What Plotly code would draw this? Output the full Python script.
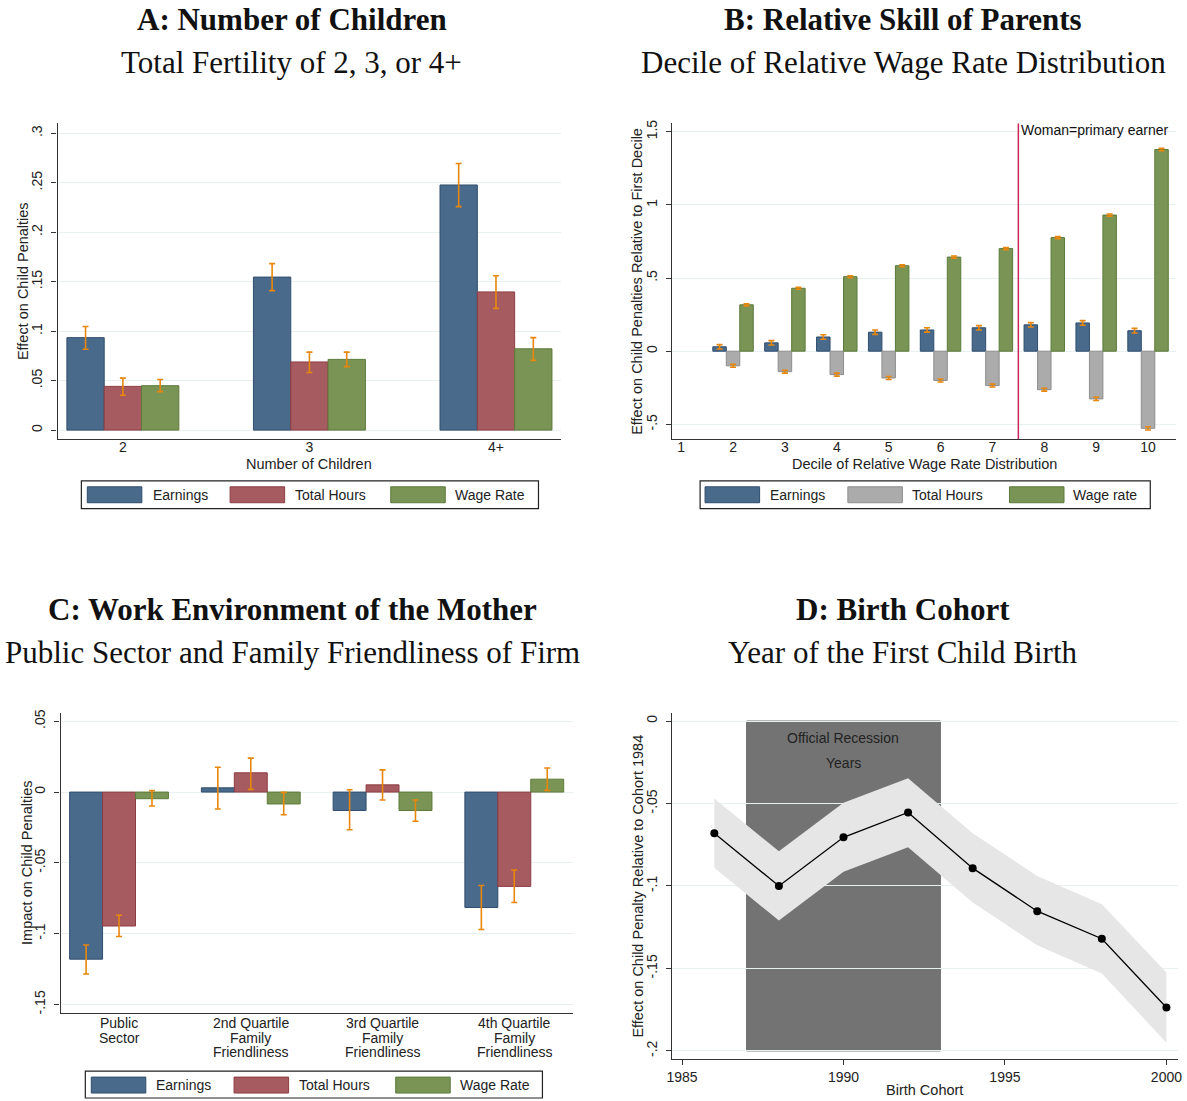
import plotly.graph_objects as go

# ---------------- data ----------------
# Panel A
catA = ["2", "3", "4+"]
earnA = [0.0935, 0.1547, 0.2478]
earnA_lo = [0.0818, 0.1410, 0.2259]
earnA_hi = [0.1048, 0.1683, 0.2695]
hoursA = [0.0442, 0.0689, 0.1397]
hoursA_lo = [0.0353, 0.0582, 0.1231]
hoursA_hi = [0.0526, 0.0788, 0.1560]
wageA = [0.0449, 0.0715, 0.0822]
wageA_lo = [0.0389, 0.0642, 0.0705]
wageA_hi = [0.0512, 0.0788, 0.0935]

# Panel B
decB = [2, 3, 4, 5, 6, 7, 8, 9, 10]
earnB = [0.030, 0.057, 0.097, 0.130, 0.145, 0.160, 0.180, 0.193, 0.140]
earnB_err = [0.015, 0.015, 0.015, 0.015, 0.015, 0.015, 0.015, 0.016, 0.016]
hoursB = [-0.100, -0.140, -0.160, -0.183, -0.200, -0.235, -0.263, -0.326, -0.527]
hoursB_err = [0.010, 0.010, 0.010, 0.010, 0.010, 0.010, 0.010, 0.011, 0.011]
wageB = [0.317, 0.430, 0.509, 0.584, 0.643, 0.701, 0.776, 0.930, 1.378]
wageB_err = [0.007, 0.007, 0.007, 0.007, 0.007, 0.007, 0.007, 0.007, 0.008]

# Panel C
catC = ["Public Sector", "2nd Quartile", "3rd Quartile", "4th Quartile"]
catC_lines = [["Public", "Sector"],
              ["2nd Quartile", "Family", "Friendliness"],
              ["3rd Quartile", "Family", "Friendliness"],
              ["4th Quartile", "Family", "Friendliness"]]
earnC = [-0.1180, 0.0030, -0.0130, -0.0815]
earnC_lo = [-0.1285, -0.0120, -0.0266, -0.0970]
earnC_hi = [-0.1080, 0.0175, 0.0016, -0.0660]
hoursC = [-0.0946, 0.0136, 0.0051, -0.0666]
hoursC_lo = [-0.1020, 0.0019, -0.0056, -0.0780]
hoursC_hi = [-0.0870, 0.0240, 0.0157, -0.0550]
wageC = [-0.0047, -0.0084, -0.0130, 0.0091]
wageC_lo = [-0.0098, -0.0160, -0.0206, 0.0012]
wageC_hi = [0.0010, -0.0002, -0.0056, 0.0170]

# Panel D
yearD = [1986, 1988, 1990, 1992, 1994, 1996, 1998, 2000]
effD = [-0.0680, -0.1000, -0.0705, -0.0554, -0.0892, -0.1153, -0.1320, -0.1737]
effD_hi = [-0.0470, -0.0790, -0.0496, -0.0347, -0.0680, -0.0940, -0.1110, -0.1524]
effD_lo = [-0.0890, -0.1210, -0.0914, -0.0765, -0.1100, -0.1360, -0.1530, -0.1950]
recession = [1987, 1993]

# ---------------- styles ----------------
W, H = 1187, 1101
BLUE, BLUE_L = "#4a6a8c", "#2f4e6e"
RED, RED_L = "#a65b60", "#8c3d44"
GREEN, GREEN_L = "#7a9456", "#5c7a3a"
GREY, GREY_L = "#ababab", "#8e8e8e"
ORANGE = "#e8870e"
GRID = "#e8f0f1"
SANS = "Liberation Sans, Arial, sans-serif"
SERIF = "Liberation Serif, Times New Roman, serif"


def px_x(p):
    return p / W


def px_y(p):
    return 1 - p / H


fig = go.Figure()


def add_bar(xa, ya, x, y, lo, hi, color, line, width, offset, name, symmetric_err=None):
    if symmetric_err is not None:
        err = dict(type="data", array=symmetric_err, color=ORANGE, thickness=1.6, width=3)
    else:
        err = dict(type="data", symmetric=False,
                   array=[h - v for h, v in zip(hi, y)],
                   arrayminus=[v - l for v, l in zip(y, lo)],
                   color=ORANGE, thickness=1.6, width=3)
    fig.add_trace(go.Bar(x=x, y=y, xaxis=xa, yaxis=ya, name=name,
                         marker=dict(color=color, line=dict(color=line, width=1)),
                         width=width, offset=offset, error_y=err, showlegend=False))


# Panel A
wA = 0.2
add_bar("x", "y", catA, earnA, earnA_lo, earnA_hi, BLUE, BLUE_L, wA, -0.3, "Earnings")
add_bar("x", "y", catA, hoursA, hoursA_lo, hoursA_hi, RED, RED_L, wA, -0.1, "Total Hours")
add_bar("x", "y", catA, wageA, wageA_lo, wageA_hi, GREEN, GREEN_L, wA, 0.1, "Wage Rate")

# Panel B
wB = 0.26
add_bar("x2", "y2", decB, earnB, None, None, BLUE, BLUE_L, wB, -0.39, "Earnings", earnB_err)
add_bar("x2", "y2", decB, hoursB, None, None, GREY, GREY_L, wB, -0.13, "Total Hours", hoursB_err)
add_bar("x2", "y2", decB, wageB, None, None, GREEN, GREEN_L, wB, 0.13, "Wage rate", wageB_err)

# Panel C
wC = 0.25
add_bar("x3", "y3", catC, earnC, earnC_lo, earnC_hi, BLUE, BLUE_L, wC, -0.375, "Earnings")
add_bar("x3", "y3", catC, hoursC, hoursC_lo, hoursC_hi, RED, RED_L, wC, -0.125, "Total Hours")
add_bar("x3", "y3", catC, wageC, wageC_lo, wageC_hi, GREEN, GREEN_L, wC, 0.125, "Wage Rate")

# Panel D
fig.add_trace(go.Scatter(x=yearD, y=effD_lo, xaxis="x4", yaxis="y4", mode="lines",
                         line=dict(width=0, color="#e6e6e6"), showlegend=False, hoverinfo="skip"))
fig.add_trace(go.Scatter(x=yearD, y=effD_hi, xaxis="x4", yaxis="y4", mode="lines",
                         line=dict(width=0, color="#e6e6e6"), fill="tonexty",
                         fillcolor="#e6e6e6", showlegend=False, hoverinfo="skip"))
fig.add_trace(go.Scatter(x=yearD, y=effD, xaxis="x4", yaxis="y4", mode="lines+markers",
                         line=dict(color="black", width=1.3),
                         marker=dict(color="black", size=8), showlegend=False))

# ---------------- axes ----------------
tickfont = dict(family=SANS, size=14, color="#222")


def xax(domain, anchor, ticks="", standoff=-5, **kw):
    d = dict(domain=domain, anchor=anchor, showgrid=False, zeroline=False,
             showline=True, linecolor="#333", linewidth=1.2, ticks=ticks,
             ticklen=5, tickcolor="#333", tickfont=tickfont, ticklabelstandoff=standoff)
    d.update(kw)
    return d


def yax(domain, anchor, tickvals, ticktext, rng):
    return dict(domain=domain, anchor=anchor, range=rng, tickvals=tickvals, ticktext=ticktext,
                tickangle=-90, showgrid=True, gridcolor=GRID, gridwidth=1, zeroline=False,
                showline=True, linecolor="#333", linewidth=1.2, ticks="outside", ticklen=5,
                tickcolor="#333", tickfont=tickfont, ticklabelstandoff=4)


domA_x = [px_x(52), px_x(560)]
domA_y = [px_y(437), px_y(120)]
domB_x = [px_x(672), px_x(1180)]
domC_x = [px_x(55), px_x(572)]
domC_y = [px_y(1014), px_y(712)]
domD_x = [px_x(672), px_x(1182)]
domD_y = [px_y(1060), px_y(712)]

fig.update_layout(
    xaxis=xax(domA_x, "y", type="category", range=[-0.35, 2.35]),
    yaxis=yax(domA_y, "x", [0, 0.05, 0.1, 0.15, 0.2, 0.25, 0.3],
              ["0", ".05", ".1", ".15", ".2", ".25", ".3"], [-0.009, 0.31]),
    xaxis2=xax(domB_x, "y2", range=[0.83, 10.54], tickvals=list(range(1, 11))),
    yaxis2=yax(domA_y, "x2", [-0.5, 0, 0.5, 1, 1.5], ["-.5", "0", ".5", "1", "1.5"],
               [-0.6, 1.556]),
    xaxis3=xax(domC_x, "y3", type="category", range=[-0.444, 3.447], showticklabels=False),
    yaxis3=yax(domC_y, "x3", [-0.15, -0.1, -0.05, 0, 0.05], ["-.15", "-.1", "-.05", "0", ".05"],
               [-0.1563, 0.056]),
    xaxis4=xax(domD_x, "y4", ticks="outside", standoff=0, range=[1984.7, 2000.36],
               tickvals=[1985, 1990, 1995, 2000]),
    yaxis4=yax(domD_y, "x4", [0, -0.05, -0.1, -0.15, -0.2], ["0", "-.05", "-.1", "-.15", "-.2"],
               [-0.205, 0.005]),
)

# ---------------- shapes & annotations ----------------
shapes = []
annotations = []


def text(x, y, s, size=14.5, angle=0, xanchor="center", family=SANS, color="#222"):
    annotations.append(dict(xref="paper", yref="paper", x=px_x(x), y=px_y(y), text=s,
                            showarrow=False, xanchor=xanchor, yanchor="middle", textangle=angle,
                            font=dict(family=family, size=size, color=color)))


# axis titles
text(306, 462, "Number of Children")
text(926, 462, "Decile of Relative Wage Rate Distribution")
text(926, 1091, "Birth Cohort")
text(17, 278.5, "Effect on Child Penalties", angle=-90)
text(637, 278.5, "Effect on Child Penalties Relative to First Decile", angle=-90)
text(21, 863, "Impact on Child Penalties", angle=-90)
text(637, 886, "Effect on Child Penalty Relative to Cohort 1984", angle=-90)

# category labels of panel C, one line each (tight line spacing)
for cat, lines in zip(catC, catC_lines):
    for i, ln in enumerate(lines):
        annotations.append(dict(xref="x3", yref="paper", x=cat, y=px_y(1024 + 14.5 * i),
                                text=ln, showarrow=False, xanchor="center", yanchor="middle",
                                font=dict(family=SANS, size=14, color="#222")))

# recession shading
shapes.append(dict(type="rect", xref="x4", yref="y4", x0=recession[0], x1=recession[1],
                   y0=-0.2, y1=0, fillcolor="#737373", line=dict(color="#6a6a6a", width=1),
                   layer="below"))
annotations.append(dict(xref="x4", yref="y4", x=sum(recession) / 2, y=-0.0103,
                        text="Official Recession", showarrow=False,
                        font=dict(family=SANS, size=14, color="#222")))
annotations.append(dict(xref="x4", yref="y4", x=sum(recession) / 2, y=-0.0254,
                        text="Years", showarrow=False,
                        font=dict(family=SANS, size=14, color="#222")))

# vertical line B
shapes.append(dict(type="line", xref="x2", yref="y2 domain", x0=7.5, x1=7.5, y0=0, y1=1,
                   line=dict(color="#c8285a", width=1.5)))
annotations.append(dict(xref="x2", yref="paper", x=7.5, y=px_y(127), xanchor="left", yanchor="middle",
                        xshift=1, text="Woman=primary earner", showarrow=False,
                        font=dict(family=SANS, size=14, color="#111")))

# titles
for cx, ty, sy, t, s in [
    (288, 16, 59, "A: Number of Children", "Total Fertility of 2, 3, or 4+"),
    (905, 16, 59, "B: Relative Skill of Parents", "Decile of Relative Wage Rate Distribution"),
    (289, 608, 651, "C: Work Environment of the Mother", "Public Sector and Family Friendliness of Firm"),
    (905, 608, 651, "D: Birth Cohort", "Year of the First Child Birth"),
]:
    text(cx, ty, "<b>" + t + "</b>", size=31, family=SERIF, color="#111")
    text(cx, sy, s, size=31, family=SERIF, color="#111")


# manual legends (boxes)
def legend(box, yc, items):
    x0, x1, y0, y1 = box
    shapes.append(dict(type="rect", xref="paper", yref="paper", x0=px_x(x0), x1=px_x(x1),
                       y0=px_y(y1), y1=px_y(y0), line=dict(color="#222", width=1.2),
                       fillcolor="white"))
    for sx0, tx, col, lcol, label in items:
        shapes.append(dict(type="rect", xref="paper", yref="paper", x0=px_x(sx0), x1=px_x(sx0 + 55),
                           y0=px_y(yc + 8), y1=px_y(yc - 8), fillcolor=col,
                           line=dict(color=lcol, width=1)))
        text(tx, yc, label, size=14, xanchor="left")


legend((76, 537, 479, 507), 493, [(82, 146, BLUE, BLUE_L, "Earnings"),
                                  (226, 289, RED, RED_L, "Total Hours"),
                                  (388, 451, GREEN, GREEN_L, "Wage Rate")])
legend((700, 1154, 479, 507), 493, [(705, 768, BLUE, BLUE_L, "Earnings"),
                                    (849, 912, GREY, GREY_L, "Total Hours"),
                                    (1012, 1074, GREEN, GREEN_L, "Wage rate")])
legend((80, 541, 1072, 1099), 1086, [(86, 149, BLUE, BLUE_L, "Earnings"),
                                     (230, 293, RED, RED_L, "Total Hours"),
                                     (393, 456, GREEN, GREEN_L, "Wage Rate")])

fig.update_layout(shapes=shapes, annotations=annotations, width=W, height=H,
                  margin=dict(l=0, r=0, t=0, b=0), plot_bgcolor="white", paper_bgcolor="white",
                  showlegend=False, font=dict(family=SANS, color="#222"))

fig.write_html("out.html", config={"displayModeBar": False},
               post_script="document.body.style.margin='0';document.body.style.overflow='hidden';")
